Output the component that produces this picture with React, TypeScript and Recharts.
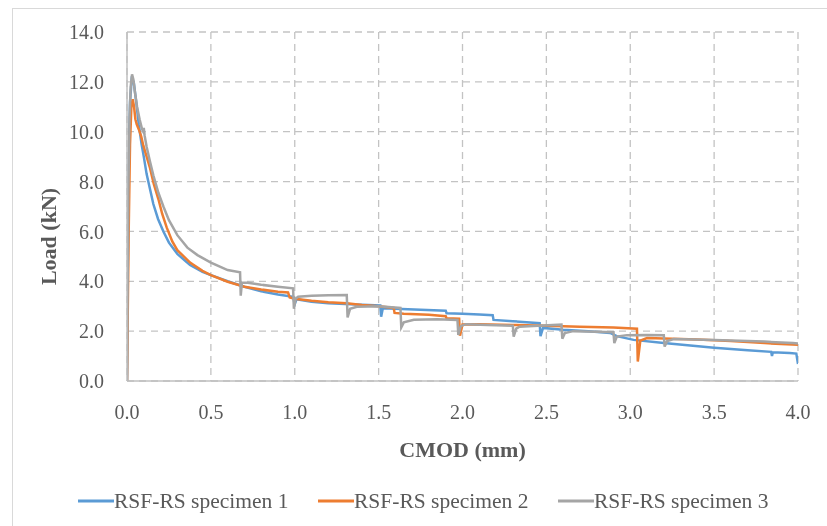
import React from 'react';
import { LineChart, Line, XAxis, YAxis, CartesianGrid, Legend } from 'recharts';

// ---- data (CMOD in mm, Load in kN) ----
const s1Cmod = [0, 0.004, 0.01, 0.018, 0.028, 0.04, 0.055, 0.07, 0.087, 0.095, 0.1, 0.117, 0.137, 0.157, 0.185, 0.217, 0.25, 0.3, 0.376, 0.45, 0.5, 0.6, 0.7, 0.8, 0.9, 0.99, 1.0, 1.01, 1.1, 1.2, 1.3, 1.4, 1.51, 1.515, 1.525, 1.6, 1.75, 1.9, 1.905, 2.0, 2.1, 2.18, 2.185, 2.3, 2.46, 2.465, 2.48, 2.6, 2.75, 2.88, 2.92, 3.02, 3.2, 3.5, 3.7, 3.84, 3.845, 3.85, 3.95, 3.99, 4.0];
const s1Load = [0, 4, 8.5, 11.2, 12.1, 12.0, 11.2, 10.3, 9.5, 9.2, 9.0, 8.3, 7.7, 7.1, 6.5, 6.0, 5.55, 5.1, 4.65, 4.38, 4.25, 4.0, 3.78, 3.6, 3.47, 3.38, 3.08, 3.28, 3.18, 3.12, 3.09, 3.06, 3.03, 2.58, 2.92, 2.9, 2.86, 2.82, 2.72, 2.7, 2.67, 2.64, 2.45, 2.4, 2.32, 1.8, 2.13, 2.06, 2.0, 1.93, 1.8, 1.65, 1.52, 1.33, 1.23, 1.17, 1.0, 1.15, 1.12, 1.1, 0.68];

const s2Cmod = [0, 0.004, 0.01, 0.018, 0.026, 0.034, 0.042, 0.05, 0.058, 0.07, 0.085, 0.097, 0.117, 0.137, 0.16, 0.187, 0.21, 0.237, 0.27, 0.3, 0.376, 0.45, 0.5, 0.6, 0.7, 0.8, 0.9, 0.96, 0.97, 1.0, 1.1, 1.2, 1.31, 1.4, 1.5, 1.59, 1.595, 1.65, 1.8, 1.9, 1.905, 1.98, 1.985, 2.0, 2.1, 2.3, 2.5, 2.7, 2.9, 3.04, 3.045, 3.06, 3.1, 3.2, 3.4, 3.6, 3.8, 3.9, 4.0];
const s2Load = [0, 2.5, 6, 9.5, 11.0, 11.3, 11.0, 10.5, 10.3, 10.1, 9.8, 9.45, 9.0, 8.55, 7.9, 7.3, 6.7, 6.15, 5.6, 5.25, 4.75, 4.42, 4.25, 3.98, 3.78, 3.67, 3.58, 3.55, 3.35, 3.3, 3.22, 3.16, 3.12, 3.05, 3.0, 2.93, 2.73, 2.7, 2.66, 2.6, 2.52, 2.5, 1.82, 2.27, 2.28, 2.25, 2.22, 2.18, 2.15, 2.1, 0.78, 1.62, 1.72, 1.7, 1.66, 1.6, 1.52, 1.48, 1.45];

const s3Cmod = [0, 0.003, 0.008, 0.015, 0.022, 0.03, 0.038, 0.047, 0.06, 0.075, 0.09, 0.097, 0.1, 0.105, 0.117, 0.137, 0.157, 0.187, 0.217, 0.25, 0.3, 0.36, 0.42, 0.5, 0.6, 0.674, 0.678, 0.685, 0.72, 0.8, 0.9, 0.99, 0.995, 1.005, 1.02, 1.1, 1.2, 1.31, 1.315, 1.33, 1.37, 1.5, 1.63, 1.635, 1.65, 1.71, 1.85, 1.97, 1.975, 1.99, 2.02, 2.15, 2.3, 2.305, 2.32, 2.34, 2.45, 2.59, 2.595, 2.61, 2.66, 2.8, 2.9, 2.905, 2.92, 2.98, 3.1, 3.2, 3.205, 3.22, 3.26, 3.5, 3.8, 3.97, 4.0];
const s3Load = [0, 3, 7.5, 10.5, 11.8, 12.3, 12.1, 11.6, 11.0, 10.5, 10.1, 10.0, 10.15, 9.85, 9.4, 8.8, 8.25, 7.55, 7.0, 6.45, 5.85, 5.35, 5.05, 4.75, 4.45, 4.36, 3.42, 3.95, 3.94, 3.86, 3.78, 3.72, 2.9, 3.3, 3.38, 3.42, 3.44, 3.45, 2.55, 2.9, 2.98, 3.0, 2.93, 2.15, 2.35, 2.46, 2.48, 2.45, 1.85, 2.2, 2.28, 2.25, 2.22, 1.78, 2.1, 2.18, 2.22, 2.26, 1.7, 1.92, 2.0, 1.98, 1.96, 1.52, 1.78, 1.84, 1.85, 1.84, 1.38, 1.6, 1.68, 1.64, 1.58, 1.52, 1.5];

const xTicks = [0, 0.5, 1, 1.5, 2, 2.5, 3, 3.5, 4];
const yTicks = [0, 2, 4, 6, 8, 10, 12, 14];
const seriesNames = ['RSF-RS specimen 1', 'RSF-RS specimen 2', 'RSF-RS specimen 3'];
const seriesColors = ['#5B9BD5', '#ED7D31', '#A5A5A5'];
const xTitle = 'CMOD (mm)';
const yTitle = 'Load (kN)';

const toPoints = (xs: number[], ys: number[]) => xs.map((x, i) => ({ x, y: ys[i] }));
const seriesData = [toPoints(s1Cmod, s1Load), toPoints(s2Cmod, s2Load), toPoints(s3Cmod, s3Load)];

const FONT = '"Liberation Serif", "Times New Roman", serif';
const TEXT = '#595959';

const LegendContent = () => (
  <div style={{ display: 'flex', height: 24, alignItems: 'center', paddingLeft: 70, fontFamily: FONT, fontSize: 21.5, color: TEXT }}>
    {seriesNames.map((n, i) => (
      <div key={n} style={{ width: 240, display: 'flex', alignItems: 'center', whiteSpace: 'nowrap' }}>
        <svg width={36} height={10} style={{ display: 'block' }}>
          <line x1={0} y1={5} x2={36} y2={5} stroke={seriesColors[i]} strokeWidth={3} />
        </svg>
        <span>{n}</span>
      </div>
    ))}
  </div>
);

export default function App() {
  return (
    <div style={{ position: 'relative', width: 811, height: 510 }}>
      <div style={{ position: 'fixed', left: 12, top: 8, right: 0, bottom: 0, borderLeft: '1px solid #d9d9d9', borderTop: '1px solid #d9d9d9', pointerEvents: 'none' }} />
      <LineChart width={811} height={510} margin={{ top: 24, right: 21, left: 0, bottom: 0 }}>
        <CartesianGrid stroke="#c3c3c3" strokeDasharray="7 5" strokeWidth={1.3} />
        <XAxis
          dataKey="x"
          type="number"
          domain={[0, 4]}
          ticks={xTicks}
          allowDataOverflow
          tickFormatter={(v: number) => v.toFixed(1)}
          height={113}
          tickSize={0}
          tickMargin={24}
          axisLine={{ stroke: '#bfbfbf', strokeWidth: 1.5 }}
          tick={{ fill: TEXT, fontSize: 20, fontFamily: FONT }}
          label={(props: any) => {
            const vb = props.viewBox;
            return (
              <text x={vb.x + vb.width / 2} y={vb.y + 68} dy="0.35em" textAnchor="middle" fill={TEXT} fontSize={22} fontWeight="bold" fontFamily={FONT}>
                {xTitle}
              </text>
            );
          }}
        />
        <YAxis
          type="number"
          domain={[0, 14]}
          ticks={yTicks}
          allowDataOverflow
          tickFormatter={(v: number) => v.toFixed(1)}
          width={119}
          tickSize={0}
          tickMargin={23}
          axisLine={{ stroke: '#bfbfbf', strokeWidth: 1.5 }}
          tick={{ fill: TEXT, fontSize: 20, fontFamily: FONT }}
          label={(props: any) => {
            const vb = props.viewBox;
            const cy = vb.y + vb.height / 2 + 30;
            return (
              <text x={40} y={cy} dy="0.35em" textAnchor="middle" transform={`rotate(-90 40 ${cy})`} fill={TEXT} fontSize={22} fontWeight="bold" fontFamily={FONT}>
                {yTitle}
              </text>
            );
          }}
        />
        <Legend verticalAlign="bottom" content={<LegendContent />} wrapperStyle={{ top: 481, left: 0, width: 811, height: 24 }} />
        {seriesData.map((d, i) => (
          <Line
            key={seriesNames[i]}
            data={d}
            dataKey="y"
            name={seriesNames[i]}
            type="linear"
            dot={false}
            activeDot={false}
            stroke={seriesColors[i]}
            strokeWidth={2.5}
            isAnimationActive={false}
          />
        ))}
      </LineChart>
    </div>
  );
}
